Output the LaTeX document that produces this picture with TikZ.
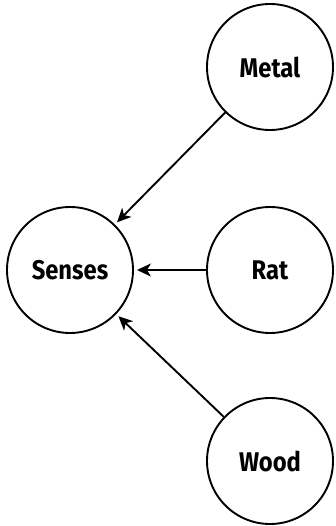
\documentclass[tikz,border=0pt]{standalone}
\usepackage{fontspec}
\setmainfont{Fira Sans}
\usetikzlibrary{arrows.meta}
\tikzset{
  ball/.style={circle, draw=black, line width=1.9pt, minimum size=126pt, inner sep=0pt,
    font=\bfseries\fontsize{27}{27}\selectfont},
  link/.style={line width=1.9pt, -{Stealth[length=14pt,width=13pt,inset=4pt]}, shorten >=3pt}
}
\begin{document}
\begin{tikzpicture}[x=1pt,y=-1pt]
  \useasboundingbox (0,0) rectangle (336,526);
  \node[ball] (metal)  at (270,67)  {\scalebox{0.88}[1]{Metal}};
  \node[ball] (senses) at (70,270)  {\scalebox{0.88}[1]{Senses}};
  \node[ball] (rat)    at (270,270) {\scalebox{0.88}[1]{Rat}};
  \node[ball] (wood)   at (270,461) {\scalebox{0.88}[1]{Wood}};
  \draw[link] (metal) -- (senses);
  \draw[link] (rat) -- (senses);
  \draw[link] (wood) -- (senses);
\end{tikzpicture}
\end{document}
